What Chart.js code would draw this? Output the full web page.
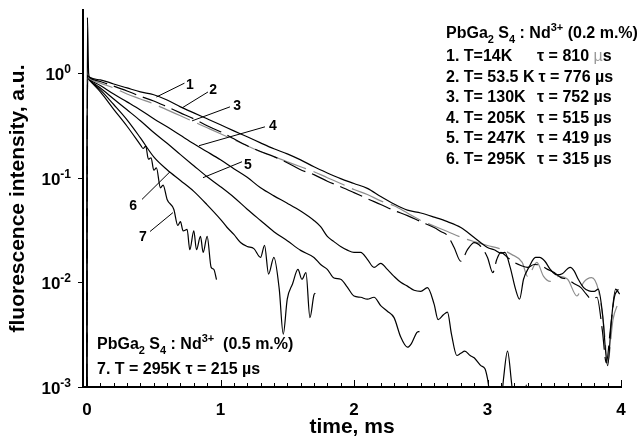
<!DOCTYPE html>
<html>
<head>
<meta charset="utf-8">
<script src="https://cdn.jsdelivr.net/npm/chart.js@4.4.1/dist/chart.umd.min.js"></script>
<style>
  html, body { margin: 0; padding: 0; background: #fff; }
  #wrap { width: 639px; height: 446px; }
</style>
</head>
<body>
<div id="wrap"><canvas id="decay"></canvas></div>
<script>
const FONT = 'Arial, "Liberation Sans", sans-serif';

// axis ranges and tick labels
const xMin = -0.03, xMax = 4;
const yMin = 1e-3, yMax = 4;
const xLabels = [0, 1, 2, 3, 4];
const yDecades = [1e-3, 1e-2, 1e-1, 1];
const yExponents = ['-3', '-2', '-1', '0'];

// decay traces: [time in ms, intensity]
const trace14K = [
  [-0.002, 0.0005], [0.003, 3.4], [0.012, 1.0], [0.02, 0.91], [0.1, 0.86], [0.2, 0.786],
  [0.3, 0.72], [0.4, 0.66], [0.5, 0.62], [0.6, 0.553], [0.7, 0.475], [0.8, 0.416],
  [0.9, 0.365], [1.0, 0.32], [1.1, 0.28], [1.2, 0.246], [1.3, 0.215], [1.4, 0.189],
  [1.5, 0.169], [1.6, 0.148], [1.7, 0.127], [1.8, 0.111], [1.9, 0.098], [2.0, 0.088],
  [2.1, 0.079], [2.2, 0.066], [2.3, 0.056], [2.4, 0.049], [2.5, 0.046], [2.6, 0.042],
  [2.7, 0.038], [2.8, 0.0334], [2.9, 0.0268], [3.0, 0.0215], [3.05, 0.0205], [3.1, 0.019],
  [3.13, 0.0193], [3.17, 0.0139], [3.21, 0.0086], [3.24, 0.0069], [3.27, 0.0107], [3.31, 0.0139],
  [3.36, 0.0173], [3.39, 0.0173], [3.43, 0.0159], [3.47, 0.0133], [3.52, 0.0118], [3.56, 0.0121],
  [3.6, 0.0135], [3.62, 0.0139], [3.65, 0.0128], [3.68, 0.0107], [3.72, 0.0089], [3.76, 0.0083],
  [3.8, 0.0082], [3.83, 0.0086], [3.86, 0.0052], [3.9, 0.0016], [3.93, 0.0046], [3.96, 0.0086],
  [3.99, 0.0077]
];
const trace53K = [
  [-0.002, 0.0005], [0.004, 0.95], [0.02, 0.9], [0.1, 0.83], [0.2, 0.75], [0.3, 0.674],
  [0.4, 0.6], [0.5, 0.54], [0.6, 0.475], [0.7, 0.416], [0.8, 0.365], [0.9, 0.313],
  [1.0, 0.275], [1.1, 0.235], [1.2, 0.202], [1.3, 0.178], [1.4, 0.159], [1.5, 0.139],
  [1.6, 0.119], [1.7, 0.107], [1.8, 0.0925], [1.9, 0.082], [2.0, 0.072], [2.1, 0.063],
  [2.2, 0.0555], [2.3, 0.0486], [2.4, 0.0434], [2.5, 0.038], [2.6, 0.0334], [2.65, 0.0306],
  [2.7, 0.028], [2.75, 0.0215], [2.8, 0.0159], [2.85, 0.0205], [2.9, 0.024], [2.95, 0.022],
  [3.0, 0.0173], [3.04, 0.0124], [3.07, 0.0166], [3.1, 0.0193], [3.15, 0.0173], [3.2, 0.0155],
  [3.25, 0.0145], [3.3, 0.0139], [3.35, 0.0148], [3.4, 0.0145], [3.45, 0.0133], [3.5, 0.0124],
  [3.55, 0.0111], [3.6, 0.0107], [3.65, 0.0097], [3.7, 0.0089], [3.74, 0.0077], [3.78, 0.0069],
  [3.82, 0.0072], [3.86, 0.0035], [3.89, 0.0017], [3.92, 0.0035], [3.95, 0.0072], [3.98, 0.0086]
];
const trace130K = [
  [-0.002, 0.0005], [0.004, 0.93], [0.02, 0.88], [0.1, 0.8], [0.2, 0.72], [0.3, 0.63],
  [0.4, 0.565], [0.5, 0.507], [0.6, 0.444], [0.7, 0.39], [0.8, 0.342], [0.9, 0.3],
  [1.0, 0.263], [1.1, 0.23], [1.2, 0.202], [1.3, 0.177], [1.4, 0.159], [1.5, 0.142],
  [1.6, 0.127], [1.7, 0.114], [1.8, 0.1], [1.9, 0.088], [2.0, 0.077], [2.1, 0.069],
  [2.2, 0.06], [2.3, 0.054], [2.4, 0.046], [2.5, 0.039], [2.6, 0.0345], [2.7, 0.0306],
  [2.8, 0.027], [2.9, 0.0245], [3.0, 0.0225], [3.09, 0.021], [3.18, 0.0185], [3.26, 0.0155],
  [3.3, 0.0114], [3.37, 0.0155], [3.42, 0.0114], [3.47, 0.0102], [3.53, 0.0114], [3.6, 0.0107],
  [3.67, 0.0074], [3.72, 0.01], [3.78, 0.0111], [3.83, 0.0085], [3.87, 0.004], [3.9, 0.0017],
  [3.94, 0.0044], [3.98, 0.0064]
];
const trace205K = [
  [-0.002, 0.0005], [0.004, 0.92], [0.02, 0.87], [0.1, 0.76], [0.2, 0.63], [0.3, 0.53],
  [0.4, 0.444], [0.5, 0.365], [0.6, 0.306], [0.7, 0.254], [0.8, 0.211], [0.9, 0.177],
  [1.0, 0.148], [1.1, 0.122], [1.2, 0.101], [1.3, 0.08], [1.4, 0.067], [1.5, 0.057],
  [1.6, 0.048], [1.7, 0.039], [1.75, 0.034], [1.8, 0.0275], [1.85, 0.0245], [1.9, 0.022],
  [1.95, 0.0203], [2.0, 0.0193], [2.05, 0.0193], [2.1, 0.0166], [2.15, 0.0139], [2.2, 0.0152],
  [2.25, 0.0133], [2.3, 0.0114], [2.35, 0.01], [2.4, 0.0092], [2.45, 0.0084], [2.5, 0.0082],
  [2.55, 0.0089], [2.6, 0.0062], [2.63, 0.0044], [2.67, 0.0049], [2.7, 0.0052], [2.73, 0.0032],
  [2.77, 0.002], [2.8, 0.0021], [2.83, 0.0022], [2.87, 0.002], [2.9, 0.0019], [2.95, 0.0016],
  [2.98, 0.0015], [3.0, 0.0012], [3.02, 0.0008], [3.05, 0.0005], [3.09, 0.0005], [3.12, 0.0012],
  [3.15, 0.0022], [3.18, 0.0011], [3.21, 0.0005], [3.27, 0.0005], [3.29, 0.00105], [3.31, 0.0005]
];
const trace247K = [
  [-0.002, 0.0005], [0.004, 0.92], [0.02, 0.86], [0.1, 0.72], [0.2, 0.565], [0.3, 0.445],
  [0.4, 0.35], [0.5, 0.27], [0.6, 0.213], [0.7, 0.166], [0.8, 0.13], [0.9, 0.102],
  [1.0, 0.082], [1.1, 0.065], [1.2, 0.05], [1.3, 0.039], [1.4, 0.0305], [1.5, 0.025],
  [1.6, 0.0202], [1.7, 0.0173], [1.75, 0.0148], [1.8, 0.0133], [1.85, 0.011], [1.9, 0.0107],
  [1.95, 0.009], [2.0, 0.0074], [2.05, 0.0072], [2.1, 0.0069], [2.15, 0.0072], [2.2, 0.006],
  [2.25, 0.0053], [2.3, 0.0046], [2.35, 0.003], [2.4, 0.0024], [2.43, 0.0026], [2.47, 0.0033],
  [2.49, 0.0034]
];
const trace295K = [
  [-0.002, 0.0005], [0.004, 0.9], [0.02, 0.85], [0.1, 0.69], [0.2, 0.5], [0.3, 0.357],
  [0.4, 0.24], [0.5, 0.158], [0.6, 0.119], [0.7, 0.094], [0.8, 0.074], [0.9, 0.055],
  [1.0, 0.04], [1.05, 0.0334], [1.1, 0.0287], [1.15, 0.024], [1.2, 0.022], [1.25, 0.021],
  [1.3, 0.0173], [1.33, 0.0226], [1.36, 0.012], [1.4, 0.0173], [1.44, 0.0086], [1.47, 0.0032],
  [1.5, 0.0069], [1.54, 0.0097], [1.58, 0.0133], [1.61, 0.0107], [1.64, 0.0124], [1.67, 0.0046],
  [1.7, 0.0076], [1.71, 0.0079]
];
const trace295K05 = [
  [-0.002, 0.0005], [0.004, 0.9], [0.02, 0.85], [0.1, 0.66], [0.2, 0.45], [0.3, 0.31],
  [0.4, 0.206], [0.42, 0.19], [0.44, 0.2], [0.46, 0.15], [0.48, 0.155], [0.5, 0.118],
  [0.52, 0.124], [0.55, 0.08], [0.57, 0.085], [0.6, 0.062], [0.65, 0.05], [0.68, 0.035],
  [0.7, 0.038], [0.72, 0.031], [0.75, 0.032], [0.77, 0.0205], [0.8, 0.031], [0.82, 0.0205],
  [0.85, 0.0275], [0.87, 0.0193], [0.9, 0.0275], [0.93, 0.0139], [0.95, 0.0133], [0.97, 0.0106]
];

// legend rows for the 0.2 m.% sample
const rowTemps = ['1. T=14K', '2. T= 53.5 K', '3. T= 130K', '4. T= 205K', '5. T= 247K', '6. T= 295K'];
const rowTaus = [810, 776, 752, 515, 419, 315];

// curve numbers: [text x, text y, leader start x, y, leader end x, y] in data units
const curveTags = [
  ['1', 0.77, 0.77, 0.73, 0.8, 0.52, 0.59],
  ['2', 0.944, 0.689, 0.906, 0.659, 0.712, 0.464],
  ['3', 1.124, 0.485, 1.071, 0.475, 0.787, 0.349],
  ['4', 1.393, 0.313, 1.333, 0.306, 0.839, 0.202],
  ['5', 1.206, 0.133, 1.161, 0.142, 0.869, 0.1],
  ['6', 0.345, 0.054, 0.412, 0.062, 0.622, 0.114],
  ['7', 0.419, 0.027, 0.472, 0.0306, 0.644, 0.0464]
];

const toXY = (arr) => arr.map(([x, y]) => ({ x, y }));

function line(trace, color, dash) {
  return {
    data: toXY(trace),
    borderColor: color,
    borderWidth: 1.2,
    borderDash: dash || [],
    pointRadius: 0,
    cubicInterpolationMode: 'monotone',
    fill: false
  };
}

// text with sub/superscripts, returns end x
function drawRich(ctx, x, y, parts, size) {
  ctx.textAlign = 'left';
  ctx.textBaseline = 'alphabetic';
  for (const p of parts) {
    const s = p.sub || p.sup ? Math.round(size * 0.7) : size;
    ctx.font = `${p.weight || 'bold'} ${s}px ${FONT}`;
    const dy = p.sub ? size * 0.3 : p.sup ? -size * 0.45 : 0;
    ctx.fillStyle = p.color || '#000';
    ctx.fillText(p.t, x, y + dy);
    x += ctx.measureText(p.t).width;
  }
  return x;
}

const decor = {
  id: 'decor',
  afterDraw(chart) {
    const { ctx, chartArea: area, scales: { x, y } } = chart;
    ctx.save();
    ctx.strokeStyle = '#000';
    ctx.fillStyle = '#000';
    ctx.lineWidth = 1;

    // x ticks, pointing into the plot
    for (let k = 0; k <= 40; k++) {
      const px = Math.round(x.getPixelForValue(k / 10)) + 0.5;
      const len = k % 10 === 0 ? 7 : 4;
      ctx.beginPath();
      ctx.moveTo(px, area.bottom);
      ctx.lineTo(px, area.bottom - len);
      ctx.stroke();
    }
    ctx.font = `bold 17px ${FONT}`;
    ctx.textAlign = 'center';
    ctx.textBaseline = 'alphabetic';
    xLabels.forEach(v => ctx.fillText(String(v), x.getPixelForValue(v), area.bottom + 28));

    // y decades, ticks pointing out
    yDecades.forEach((v, i) => {
      const py = Math.round(y.getPixelForValue(v)) + 0.5;
      ctx.beginPath();
      ctx.moveTo(area.left - 5, py);
      ctx.lineTo(area.left, py);
      ctx.stroke();
      ctx.font = `bold 12px ${FONT}`;
      const ew = ctx.measureText(yExponents[i]).width;
      ctx.font = `bold 17px ${FONT}`;
      const bw = ctx.measureText('10').width;
      const right = area.left - 12;
      ctx.textAlign = 'left';
      ctx.fillText('10', right - ew - bw, py + 6);
      ctx.font = `bold 12px ${FONT}`;
      ctx.fillText(yExponents[i], right - ew, py - 1);
    });

    // axis titles
    ctx.font = `bold 21px ${FONT}`;
    ctx.textAlign = 'center';
    ctx.fillText('time, ms', (area.left + area.right) / 2, 433);
    ctx.save();
    ctx.translate(24, (area.top + area.bottom) / 2);
    ctx.rotate(-Math.PI / 2);
    ctx.fillText('fluorescence intensity, a.u.', 0, 0);
    ctx.restore();

    // curve numbers with leader lines
    ctx.lineWidth = 1;
    curveTags.forEach(([t, tx, ty, ax, ay, bx, by]) => {
      ctx.beginPath();
      ctx.moveTo(x.getPixelForValue(ax), y.getPixelForValue(ay));
      ctx.lineTo(x.getPixelForValue(bx), y.getPixelForValue(by));
      ctx.stroke();
      ctx.font = `bold 14px ${FONT}`;
      ctx.textAlign = 'center';
      ctx.textBaseline = 'middle';
      ctx.fillText(t, x.getPixelForValue(tx), y.getPixelForValue(ty));
    });

    // sample description, 0.2 m.%
    const left = area.left + 363;
    drawRich(ctx, left, area.top + 28, [
      { t: 'PbGa' }, { t: '2', sub: true }, { t: ' S' }, { t: '4', sub: true },
      { t: ' : Nd' }, { t: '3+', sup: true }, { t: ' (0.2 m.%)' }
    ], 16);
    rowTemps.forEach((txt, i) => {
      const base = area.top + 51 + i * 20.5;
      const end = drawRich(ctx, left, base, [{ t: txt }], 16);
      const mu = i === 0 ? { t: 'µ', color: '#9a9a9a', weight: 'normal' } : { t: 'µ' };
      drawRich(ctx, Math.max(left + 91, end + 4), base,
        [{ t: 'τ = ' + rowTaus[i] + ' ' }, mu, { t: 's' }], 16);
    });

    // sample description, 0.5 m.%
    const left2 = area.left + 14;
    drawRich(ctx, left2, area.bottom - 38, [
      { t: 'PbGa' }, { t: '2', sub: true }, { t: ' S' }, { t: '4', sub: true },
      { t: ' : Nd' }, { t: '3+', sup: true }, { t: '  (0.5 m.%)' }
    ], 16);
    drawRich(ctx, left2, area.bottom - 13, [{ t: '7. T = 295K τ = 215 µs' }], 16);

    ctx.restore();
  }
};

new Chart(document.getElementById('decay'), {
  type: 'line',
  data: {
    datasets: [
      line(trace14K, '#000'),
      line(trace53K, '#000', [24, 7]),
      line(trace130K, '#8c8c8c', [34, 8]),
      line(trace205K, '#000'),
      line(trace247K, '#000'),
      line(trace295K, '#000'),
      line(trace295K05, '#000')
    ]
  },
  options: {
    responsive: true,
    maintainAspectRatio: false,
    animation: false,
    events: [],
    layout: { padding: { left: 0, right: 18, top: 10, bottom: 0 } },
    plugins: { legend: { display: false }, tooltip: { enabled: false } },
    scales: {
      x: {
        type: 'linear',
        min: xMin,
        max: xMax,
        grid: { display: false },
        border: { display: true, color: '#000', width: 2 },
        ticks: { display: false },
        afterFit: (s) => { s.height = 59; }
      },
      y: {
        type: 'logarithmic',
        min: yMin,
        max: yMax,
        grid: { display: false },
        border: { display: true, color: '#000', width: 2 },
        ticks: { display: false },
        afterFit: (s) => { s.width = 83; }
      }
    }
  },
  plugins: [decor]
});
</script>
</body>
</html>
